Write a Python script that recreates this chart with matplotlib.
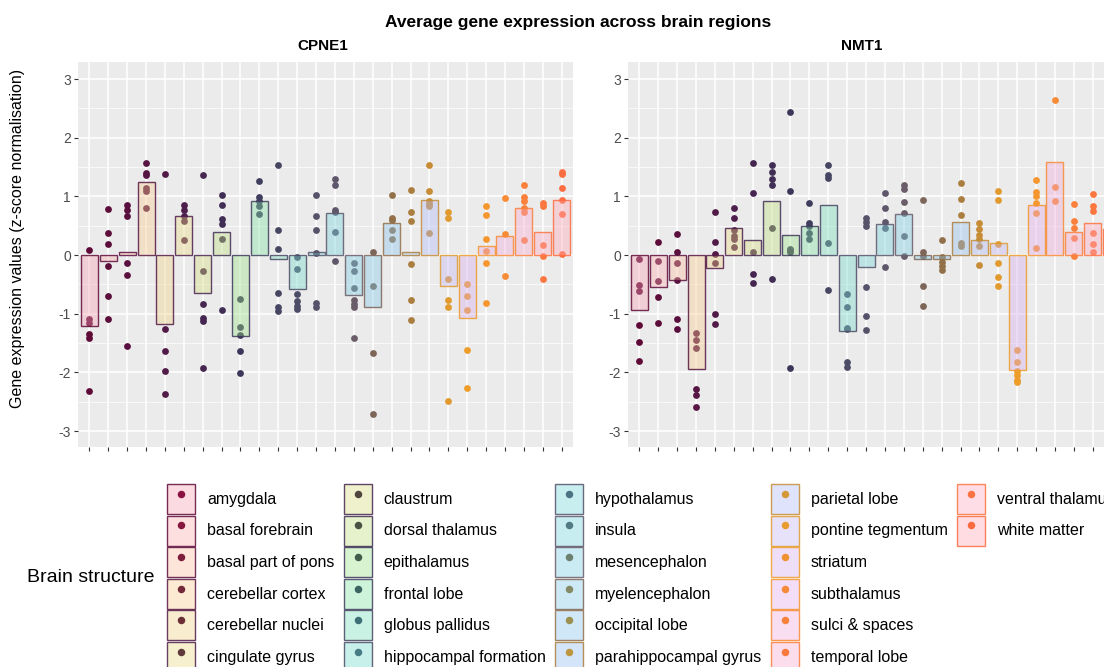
import numpy as np
import matplotlib
matplotlib.use("Agg")
import matplotlib.pyplot as plt
from matplotlib.patches import Patch
from matplotlib.lines import Line2D
from matplotlib.legend_handler import HandlerTuple
from matplotlib.colors import to_rgb

W, H = 1104, 667
plt.rcParams["font.family"] = ["Liberation Sans", "DejaVu Sans"]
plt.rcParams["axes.unicode_minus"] = False

# --- data ---
structures = [
    "amygdala", "basal forebrain", "basal part of pons", "cerebellar cortex",
    "cerebellar nuclei", "cingulate gyrus", "claustrum", "dorsal thalamus",
    "epithalamus", "frontal lobe", "globus pallidus", "hippocampal formation",
    "hypothalamus", "insula", "mesencephalon", "myelencephalon",
    "occipital lobe", "parahippocampal gyrus", "parietal lobe",
    "pontine tegmentum", "striatum", "subthalamus", "sulci & spaces",
    "temporal lobe", "ventral thalamus", "white matter",
]

cpne1_mean = [-1.21, -0.10, 0.06, 1.24, -1.18, 0.67, -0.64, 0.40, -1.38, 0.93,
              -0.07, -0.58, 0.06, 0.71, -0.68, -0.88, 0.55, 0.06, 0.94, -0.52,
              -1.08, 0.15, 0.32, 0.81, 0.39, 0.94]
cpne1_points = [
    [0.09, -1.09, -1.15, -1.35, -1.41, -2.31],
    [0.79, 0.38, 0.19, -0.19, -0.70, -1.09],
    [0.86, 0.77, 0.67, -0.14, -0.34, -1.55],
    [1.57, 1.40, 1.36, 1.14, 1.10, 0.81],
    [1.38, -1.26, -1.64, -1.98, -2.36],
    [0.86, 0.77, 0.67, 0.58, 0.25],
    [1.36, -0.27, -0.83, -1.07, -1.12, -1.92],
    [1.03, 0.85, 0.62, 0.53, 0.28, -0.94],
    [-0.74, -1.22, -1.36, -1.64, -2.01],
    [1.27, 0.99, 0.93, 0.83, 0.70],
    [1.53, 0.42, 0.10, -0.64, -0.88, -0.96],
    [-0.04, -0.24, -0.67, -0.78, -0.87, -0.92],
    [1.03, 0.66, 0.42, 0.03, -0.82, -0.89],
    [1.30, 1.20, 0.77, 0.74, 0.39, -0.10],
    [-0.14, -0.27, -0.56, -0.77, -0.83, -0.89, -1.42],
    [0.06, -0.52, -1.66, -2.70],
    [1.03, 0.64, 0.59, 0.42, 0.27],
    [1.11, 0.74, 0.58, -0.15, -0.76, -1.11],
    [1.54, 1.10, 0.93, 0.87, 0.83, 0.38],
    [0.73, 0.63, -0.41, -0.77, -0.88, -2.49],
    [-0.50, -0.70, -0.94, -1.62, -2.26],
    [0.84, 0.68, 0.27, 0.07, -0.14, -0.82],
    [0.97, 0.36, -0.35],
    [1.19, 0.99, 0.93, 0.81, 0.73, 0.25],
    [0.89, 0.84, 0.17, -0.01, -0.41],
    [1.42, 1.38, 1.15, 0.94, 0.70, 0.02],
]

# last NMT1 column (white matter) is cut off in the reference, rough guess
nmt1_mean = [-0.94, -0.55, -0.42, -1.94, -0.22, 0.46, 0.25, 0.93, 0.35, 0.50,
             0.85, -1.30, -0.20, 0.53, 0.70, -0.06, -0.06, 0.57, 0.26, 0.20,
             -1.96, 0.85, 1.58, 0.40, 0.54, 0.45]
nmt1_points = [
    [-0.07, -0.51, -0.61, -1.19, -1.48, -1.81],
    [0.23, -0.10, -0.44, -0.71, -1.16],
    [0.36, 0.06, -0.14, -0.42, -1.09, -1.26],
    [-1.33, -1.45, -1.59, -2.29, -2.38, -2.59],
    [0.73, 0.23, 0.02, -0.13, -1.01, -1.17],
    [0.80, 0.63, 0.43, 0.33, 0.27, 0.14],
    [1.57, 1.05, 0.06, -0.32, -0.47],
    [1.54, 1.41, 1.30, 1.20, 0.46, -0.40],
    [2.43, 1.09, 0.11, 0.09, 0.05, -1.92],
    [0.89, 0.55, 0.50, 0.38, 0.28],
    [1.53, 1.36, 1.32, 0.21, -0.60],
    [-0.67, -0.88, -1.24, -1.26, -1.83, -1.91],
    [0.64, 0.56, 0.49, -0.55, -1.04, -1.28],
    [1.05, 0.80, 0.56, 0.47, -0.20],
    [1.19, 1.13, 0.91, 0.72, 0.33, -0.01],
    [0.94, 0.06, -0.01, -0.52, -0.87],
    [0.26, -0.04, -0.11, -0.18, -0.25],
    [1.23, 0.96, 0.68, 0.20, 0.16],
    [0.55, 0.44, 0.35, 0.27, 0.15, -0.17],
    [1.10, 0.94, 0.19, -0.13, -0.37, -0.52],
    [-1.62, -1.83, -1.97, -2.05, -2.12, -2.17],
    [1.28, 1.07, 1.01, 0.89, 0.72, 0.12],
    [2.65, 1.16, 0.93],
    [0.87, 0.58, 0.46, 0.29, -0.02],
    [1.04, 0.83, 0.75, 0.37, 0.19, 0.06],
    [0.90, 0.60, 0.40, 0.20, 0.10],
]

# --- colours ---
point_colors = [
    "#5F0A36", "#5D0D3A", "#5A103E", "#571543", "#521A47", "#4D1F4C",
    "#462650", "#402E55", "#3D3659", "#3F3E5E", "#464662", "#4D4C66",
    "#55526A", "#5E576C", "#6A5C68", "#7D6558", "#92704A", "#AA7E3E",
    "#C78D36", "#E09A2E", "#EE9D2A", "#F5962E", "#F88B35", "#FA803B",
    "#FC763F", "#FD6D42",
]
# dot colours as they look inside the legend keys
legend_dot_colors = [
    "#8B1042", "#86163E", "#7E1E3A", "#742838", "#6A3036", "#5E3A3A",
    "#4E463C", "#485344", "#405C4A", "#3B6460", "#3E6E76", "#467A84",
    "#4B7384", "#517A85", "#6C8070", "#848A66", "#9C9050", "#BD9640",
    "#D49A3A", "#E89C30", "#F09332", "#F58B38", "#F8823C", "#FA7A3E",
    "#FC7240", "#FC6A40",
]
# how the translucent bar fill looks on top of the grey panel
fill_shown = [
    "#F0CED6", "#F2D3D4", "#F2D9CE", "#F0DEC6", "#EDE1C3", "#EAE4C2",
    "#E2E5C0", "#D9E6C0", "#CBE7C4", "#C2E7CF", "#BEE6D8", "#BCE4DF",
    "#BCE2E3", "#BCE1E5", "#BEDFE7", "#C0DDE9", "#C4DBEB", "#C9D9ED",
    "#D3D8F0", "#DBD5EE", "#E2D2EC", "#E8D1EA", "#EDD1E5", "#F0D1DF",
    "#F2D1DA", "#F3D0D5",
]

BG = "#EBEBEB"
FILL_ALPHA = 0.4


def fill_rgb(hexcol):
    # back out the opaque fill so that alpha-blending over BG gives fill_shown
    t = np.array(to_rgb(hexcol))
    g = np.array(to_rgb(BG))
    return tuple(np.clip((t - (1 - FILL_ALPHA) * g) / FILL_ALPHA, 0, 1))


fills = [(*fill_rgb(c), FILL_ALPHA) for c in fill_shown]
edges = [(*to_rgb(c), 0.85) for c in point_colors]

fig = plt.figure(figsize=(W / 100, H / 100), dpi=100)


def px_axes(left, top, width, height):
    return fig.add_axes([left / W, 1 - (top + height) / H, width / W, height / H])


def draw_panel(ax, means, points):
    x = np.arange(len(structures))
    for i, vals in enumerate(points):
        ax.scatter(np.full(len(vals), i), vals, s=24, color=point_colors[i],
                   linewidths=0, zorder=2)
    ax.bar(x, means, width=0.9, color=fills, edgecolor=edges,
           linewidth=1.0, zorder=3)
    ax.set_facecolor(BG)
    ax.set_xlim(-0.6, len(structures) - 0.4)
    ax.set_ylim(-3.27, 3.29)
    ax.set_xticks(x)
    ax.set_xticklabels([])
    ax.set_yticks(range(-3, 4))
    ax.set_yticks(np.arange(-2.5, 3.0, 1.0), minor=True)
    ax.set_axisbelow(True)
    ax.grid(which="major", color="white", linewidth=1.1)
    ax.grid(which="minor", axis="y", color="white", linewidth=0.5)
    for s in ax.spines.values():
        s.set_visible(False)
    ax.tick_params(which="major", length=3, width=0.8, color="#333333",
                   labelcolor="#4D4D4D", labelsize=10, pad=2)
    ax.tick_params(which="minor", length=0)


ax1 = px_axes(78, 62, 495, 385)
draw_panel(ax1, cpne1_mean, cpne1_points)
ax2 = px_axes(628, 62, 495, 385)   # runs past the right edge like the reference
draw_panel(ax2, nmt1_mean, nmt1_points)

fig.text(578 / W, 1 - 22 / H, "Average gene expression across brain regions",
         ha="center", va="center", fontsize=12.5, fontweight="bold")
fig.text(323 / W, 1 - 46 / H, "CPNE1", ha="center", va="center",
         fontsize=11, fontweight="bold")
fig.text(862 / W, 1 - 46 / H, "NMT1", ha="center", va="center",
         fontsize=11, fontweight="bold")
fig.text(18 / W, 1 - 238 / H, "Gene expression values (z-score normalisation)",
         rotation=90, ha="center", va="center", fontsize=11.5)

# legend: translucent box like the bars, with the dot on top
handles = []
labels = []
for name, dc, f, e in zip(structures, legend_dot_colors, fills, edges):
    box = Patch(facecolor=f, edgecolor=e, linewidth=1.0)
    dot = Line2D([], [], linestyle="none", marker="o", markersize=5.4,
                 markerfacecolor=dc, markeredgecolor="none")
    handles.append((box, dot))
    labels.append(name)
# blank entries so the columns fill 6, 6, 6, 6, 2
for _ in range(4):
    handles.append(Patch(facecolor="none", edgecolor="none"))
    labels.append("")

fig.legend(handles, labels, ncol=5, loc="upper left",
           bbox_to_anchor=(167 / W, 1 - 484 / H), frameon=False,
           handler_map={tuple: HandlerTuple(ndivide=1, pad=0)},
           fontsize=11.5, handlelength=1.75, handleheight=2.51,
           handletextpad=0.75, labelspacing=0.1, columnspacing=0.6,
           borderpad=0, borderaxespad=0)
fig.text(27 / W, 1 - 578 / H, "Brain structure", ha="left", va="center",
         fontsize=14)

fig.savefig("out.png", dpi=100)
